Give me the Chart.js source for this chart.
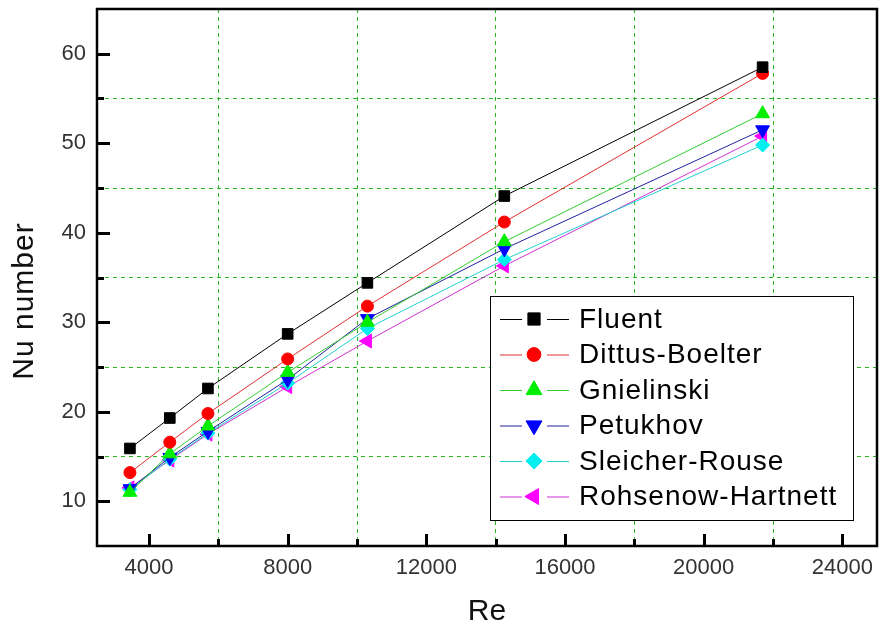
<!DOCTYPE html>
<html>
<head>
<meta charset="utf-8">
<script src="https://cdn.jsdelivr.net/npm/chart.js@4/dist/chart.umd.min.js"></script>
<style>
  html, body { margin: 0; padding: 0; background: #fff; }
  #nuChart { display: block; }
</style>
</head>
<body>
<canvas id="nuChart" width="886" height="629"></canvas>
<script>
const reValues = [3450, 4600, 5700, 8000, 10300, 14250, 21700];

const fluent = [15.9, 19.3, 22.6, 28.7, 34.4, 44.1, 58.5];
const dittusBoelter = [13.2, 16.6, 19.8, 25.9, 31.8, 41.2, 57.8];
const gnielinski = [11.0, 15.3, 18.4, 24.4, 30.0, 39.0, 53.3];
const petukhov = [11.4, 14.9, 17.8, 23.6, 30.4, 38.2, 51.5];
const sleicherRouse = [11.3, 14.7, 17.6, 23.2, 29.3, 37.0, 49.8];
const rohsenowHartnett = [11.5, 14.6, 17.5, 22.8, 27.9, 36.3, 50.8];

const reTicks = [4000, 8000, 12000, 16000, 20000, 24000];
const reGrid = [6000, 10000, 14000, 18000, 22000];
const nuTicks = [10, 20, 30, 40, 50, 60];
const nuGrid = [15, 25, 35, 45, 55];

const FONT = "Arial, 'Liberation Sans', sans-serif";
const GRID_GREEN = "#22bb22";

function series(label, values, color, lineColor, pointStyle, radius, rotation) {
  return {
    label: label,
    data: reValues.map((re, i) => ({ x: re, y: values[i] })),
    borderColor: lineColor,
    backgroundColor: color,
    borderWidth: 1,
    pointStyle: pointStyle,
    pointRadius: radius,
    pointRotation: rotation || 0,
    pointBackgroundColor: color,
    pointBorderColor: color,
    pointBorderWidth: 1,
    tension: 0,
    fill: false,
  };
}

const datasets = [
  series("Fluent", fluent, "#000000", "#000000", "rect", 7.5),
  series("Dittus-Boelter", dittusBoelter, "#ff0000", "#e03030", "circle", 6),
  series("Gnielinski", gnielinski, "#00ee00", "#33cc33", "triangle", 8),
  series("Petukhov", petukhov, "#0000ff", "#2020a0", "triangle", 8, 180),
  series("Sleicher-Rouse", sleicherRouse, "#00eeee", "#20d0d0", "rectRot", 7),
  series("Rohsenow-Hartnett", rohsenowHartnett, "#ff00ff", "#d030d0", "triangle", 8, 270),
];

function setTicks(values) {
  return function (scale) {
    scale.ticks = values.slice().sort((a, b) => a - b).map((v) => ({ value: v }));
  };
}

// frame, inward tick marks, axis titles and the boxed legend
const framePlugin = {
  id: "originFrame",
  afterDraw(chart) {
    const { ctx, chartArea: a } = chart;
    const x = chart.scales.x;
    const y = chart.scales.y;
    ctx.save();
    ctx.setLineDash([]);

    // inward tick marks, major ones longer
    ctx.fillStyle = "#000";
    reTicks.concat(reGrid).forEach((v) => {
      const px = Math.round(x.getPixelForValue(v));
      const len = reTicks.includes(v) ? 12 : 7;
      ctx.fillRect(px - 1, a.bottom - len, 3, len);
    });
    nuTicks.concat(nuGrid).forEach((v) => {
      const py = Math.round(y.getPixelForValue(v));
      const len = nuTicks.includes(v) ? 13 : 7;
      ctx.fillRect(a.left, py - 1, len, 3);
    });

    ctx.strokeStyle = "#000";
    ctx.lineWidth = 2.5;
    ctx.strokeRect(a.left, a.top, a.right - a.left, a.bottom - a.top);

    // axis titles
    ctx.fillStyle = "#111";
    ctx.font = "30px " + FONT;
    ctx.textAlign = "center";
    ctx.textBaseline = "middle";
    ctx.fillText("Re", (a.left + a.right) / 2, 612);
    ctx.save();
    ctx.translate(25, 301);
    ctx.rotate(-Math.PI / 2);
    ctx.letterSpacing = "1px";
    ctx.fillText("Nu number", 0, 0);
    ctx.restore();

    // legend
    const box = { left: 490, top: 296, right: 853, bottom: 520 };
    ctx.fillStyle = "#fff";
    ctx.fillRect(box.left, box.top, box.right - box.left, box.bottom - box.top);
    ctx.lineWidth = 1;
    ctx.strokeStyle = "#000";
    ctx.strokeRect(box.left + 0.5, box.top + 0.5, box.right - box.left, box.bottom - box.top);

    ctx.font = "28px " + FONT;
    ctx.letterSpacing = "1px";
    ctx.textAlign = "left";
    ctx.textBaseline = "middle";
    chart.data.datasets.forEach((ds, i) => {
      const ry = 319 + i * 35.5;
      ctx.strokeStyle = ds.borderColor;
      ctx.lineWidth = 1;
      ctx.beginPath();
      ctx.moveTo(500, ry + 0.5);
      ctx.lineTo(522, ry + 0.5);
      ctx.moveTo(547, ry + 0.5);
      ctx.lineTo(569, ry + 0.5);
      ctx.stroke();
      ctx.fillStyle = ds.pointBackgroundColor;
      ctx.strokeStyle = ds.pointBorderColor;
      Chart.helpers.drawPoint(ctx, {
        pointStyle: ds.pointStyle,
        radius: ds.pointRadius * 1.15,
        rotation: ds.pointRotation,
        borderWidth: 1,
      }, 534, ry);
      ctx.fillStyle = "#000";
      ctx.fillText(ds.label, 579, ry + 1);
    });

    ctx.restore();
  },
};

const chart = new Chart(document.getElementById("nuChart"), {
  type: "line",
  data: { datasets: datasets },
  options: {
    responsive: false,
    animation: false,
    layout: { padding: { top: 8, right: 9, left: 0, bottom: 0 } },
    plugins: {
      legend: { display: false },
      tooltip: { enabled: false },
    },
    scales: {
      x: {
        type: "linear",
        min: 2500,
        max: 25000,
        afterBuildTicks: setTicks(reTicks.concat(reGrid)),
        afterFit: (scale) => {
          scale.height = 83;
          scale.paddingLeft = 0;
          scale.paddingRight = 0;
        },
        border: { display: false, dash: [4, 4] },
        grid: {
          drawTicks: false,
          lineWidth: 1,
          color: (c) => (c.tick && reGrid.includes(c.tick.value) ? GRID_GREEN : "rgba(255,255,255,0)"),
        },
        ticks: {
          autoSkip: false,
          maxRotation: 0,
          padding: 9,
          color: "#333",
          font: { family: FONT, size: 22 },
          callback: (v) => (reTicks.includes(v) ? String(v) : ""),
        },
      },
      y: {
        type: "linear",
        min: 5,
        max: 65,
        afterBuildTicks: setTicks(nuTicks.concat(nuGrid)),
        afterFit: (scale) => {
          scale.width = 97;
          scale.paddingTop = 0;
          scale.paddingBottom = 0;
        },
        border: { display: false, dash: [4, 4] },
        grid: {
          drawTicks: false,
          lineWidth: 1,
          color: (c) => (c.tick && nuGrid.includes(c.tick.value) ? GRID_GREEN : "rgba(255,255,255,0)"),
        },
        ticks: {
          autoSkip: false,
          padding: 11,
          color: "#333",
          font: { family: FONT, size: 22 },
          callback: (v) => (nuTicks.includes(v) ? String(v) : ""),
        },
      },
    },
  },
  plugins: [framePlugin],
});
</script>
</body>
</html>
